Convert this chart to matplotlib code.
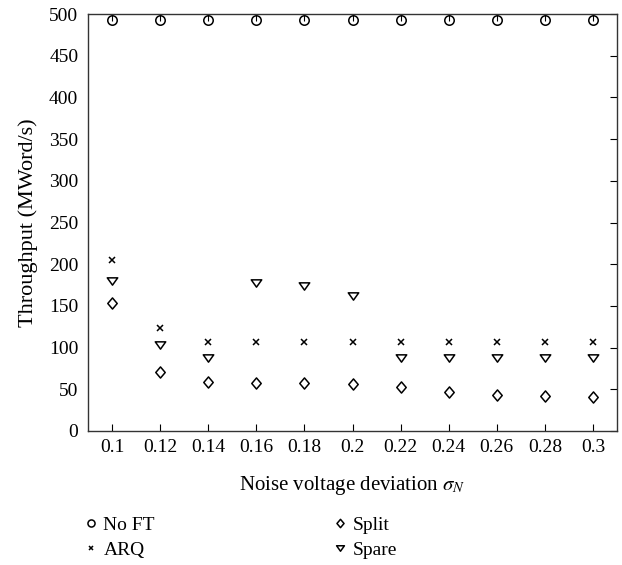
import matplotlib
matplotlib.use("Agg")
import matplotlib.pyplot as plt
from matplotlib.path import Path
import numpy as np

plt.rcParams['font.family'] = ['Liberation Serif', 'DejaVu Serif']
plt.rcParams['mathtext.fontset'] = 'stix'

# noise deviation values
sigma = [0.1, 0.12, 0.14, 0.16, 0.18, 0.2, 0.22, 0.24, 0.26, 0.28, 0.3]
tick_labels = ["0.1", "0.12", "0.14", "0.16", "0.18", "0.2",
               "0.22", "0.24", "0.26", "0.28", "0.3"]

# throughput, MWord/s
no_ft = [493, 493, 493, 493, 493, 493, 493, 493, 493, 493, 493]
arq = [205, 124, 107, 107, 107, 107, 107, 107, 107, 107, 107]
split = [153, 71, 59, 58, 58, 56, 53, 47, 43, 42, 41]
spare = [180, 103, 88, 178, 174, 162, 88, 88, 88, 88, 88]

# slightly squat marker shapes like the original
diamond = Path([(0, 1), (0.85, 0), (0, -1), (-0.85, 0), (0, 1)],
               [1, 2, 2, 2, 79])
tri = Path([(-1, 0.7), (1, 0.7), (0, -0.7), (-1, 0.7)], [1, 2, 2, 79])

fig = plt.figure(figsize=(6.22, 5.65), dpi=100)
ax = fig.add_axes([0.1415, 0.2372, 0.8505, 0.7378])

kw = dict(linestyle='none', markerfacecolor='none', markeredgecolor='black',
          color='black', markeredgewidth=1.1, clip_on=False)
ax.plot(sigma, no_ft, marker='o', markersize=6.8, label='No FT', **kw)
ax.plot(sigma, arq, marker='x', markersize=4.5, label='ARQ', **kw)
ax.plot(sigma, split, marker=diamond, markersize=8, label='Split', **kw)
ax.plot(sigma, spare, marker=tri, markersize=7.5, label='Spare', **kw)

ax.set_xlim(0.09, 0.31)
ax.set_ylim(0, 500)
ax.set_xticks(sigma)
ax.set_xticklabels(tick_labels)
ax.set_yticks(np.arange(0, 501, 50))
ax.tick_params(axis='both', direction='in', labelsize=14, length=5,
               top=True, right=True, left=False)
ax.tick_params(axis='x', pad=6)
ax.tick_params(axis='y', pad=7)
for s in ax.spines.values():
    s.set_linewidth(1.0)
    s.set_color('#333333')

ax.set_xlabel(r'Noise voltage deviation $\sigma_N$', fontsize=15, labelpad=13)
ax.set_ylabel('Throughput (MWord/s)', fontsize=16, labelpad=8)

fig.legend(loc='upper left', bbox_to_anchor=(85 / 622, 1 - 516 / 565), ncol=2,
           frameon=False, fontsize=14, markerscale=0.75, handlelength=0.6,
           handletextpad=0.35, columnspacing=9.2, labelspacing=0.4,
           borderpad=0, borderaxespad=0)

fig.savefig('out.png', dpi=100)
